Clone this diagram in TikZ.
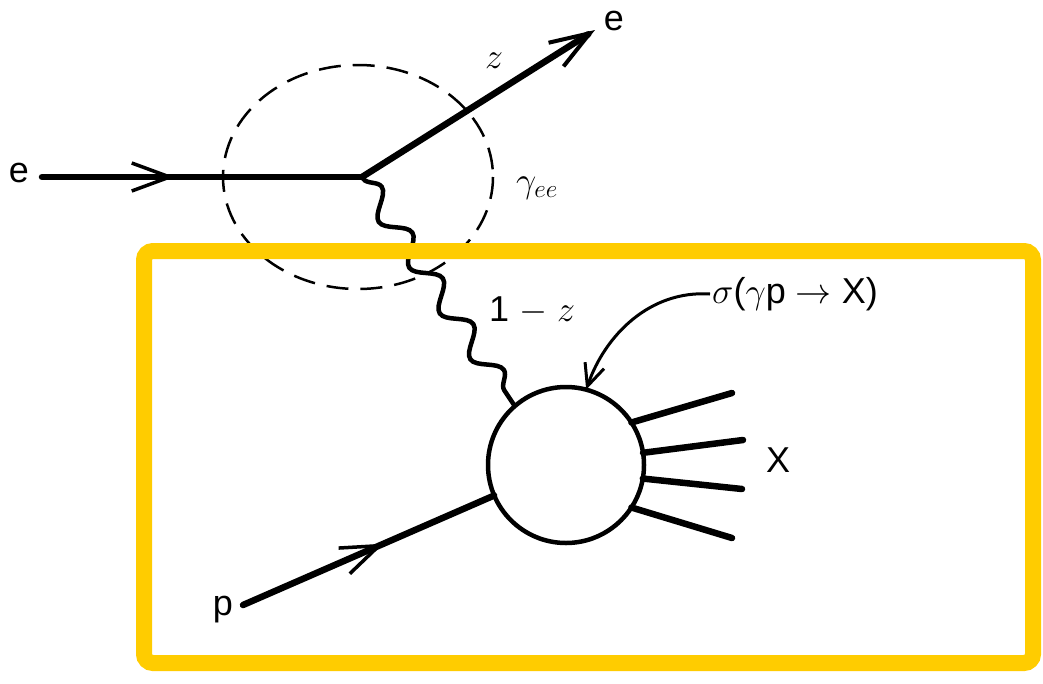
\RequirePackage{fix-cm}
\documentclass[tikz,border=0pt]{standalone}
\usepackage{fontspec}
\setmainfont{Liberation Sans}
\usetikzlibrary{arrows.meta,decorations.pathmorphing,decorations.markings}
\definecolor{boxyellow}{RGB}{255,204,0}
\begin{document}
\begin{tikzpicture}[x=1pt,y=-1pt,
  fermion/.style={line width=6.5pt,line cap=round},
  midarrow/.style={postaction={decorate},decoration={markings,
     mark=at position #1 with {\arrow{Straight Barb[length=38pt,width=28pt,line width=3.5pt]}}}},
  photon/.style={line width=4.5pt,decorate,decoration={snake,segment length=55pt,amplitude=11pt,pre length=2pt,post length=2pt}},
  outline/.style={line width=6.5pt,line cap=round},
  lbl/.style={font=\fontsize{36}{40}\selectfont,inner sep=2pt},
  mlbl/.style={font=\fontsize{36}{40}\selectfont,inner sep=2pt},
  yellowbox/.style={draw=boxyellow,line width=16pt,rounded corners=9pt}
]
\useasboundingbox (0,0) rectangle (1043,683);
\fill[white] (0,0) rectangle (1043,683);

% dashed ellipse
\draw[line width=2.5pt,dash pattern=on 22pt off 12pt] (358,177) ellipse [x radius=135, y radius=112];

% coordinates
\coordinate (ein) at (42,177);
\coordinate (V) at (362,177);
\coordinate (eout) at (595,30);
\coordinate (pin) at (243,605);

% blob
\node[circle,draw,line width=4.5pt,minimum size=156pt,inner sep=0pt,outer sep=0pt] (blob) at (566,465) {};

% fermion lines
\draw[fermion,midarrow=0.415] (ein) -- (V);
\draw[fermion,-{Straight Barb[length=40pt,width=28pt,line width=4pt]}] (V) -- (eout);
\draw[fermion,midarrow=0.56] (pin) -- (blob.203);

% photon
\draw[photon] (V) -- (blob.131);

% X lines
\coordinate (x1) at (732,393);
\coordinate (x2) at (743,440);
\coordinate (x3) at (742,489);
\coordinate (x4) at (732,538);
\draw[outline] (blob.33) -- (x1);
\draw[outline] (blob.9) -- (x2);
\draw[outline] (blob.-10) -- (x3);
\draw[outline] (blob.-33) -- (x4);

% labels
\node[lbl] (le1) at (19,173) {e};
\node[lbl] (le2) at (614,21) {e};
\node[mlbl] (lz) at (494,61) {$z$};
\node[mlbl] (lg) at (537,188) {$\gamma_{ee}$};
\node[lbl] (l1z) at (532,311) {1 $-$ $z$};
\node[lbl] (lX) at (778,460) {X};
\node[lbl] (lp) at (223,610) {p};
\node[lbl,anchor=west] (sig) at (710,294) {$\sigma$($\gamma$p $\rightarrow$ X)};

\draw[line width=3pt,-{Straight Barb[length=22pt,width=20pt,line width=3pt]}]
  (sig.west) .. controls (650,290) and (605,335) .. (blob.75);

% highlight box
\draw[yellowbox] (144,251) rectangle (1033,663);
\end{tikzpicture}
\end{document}
